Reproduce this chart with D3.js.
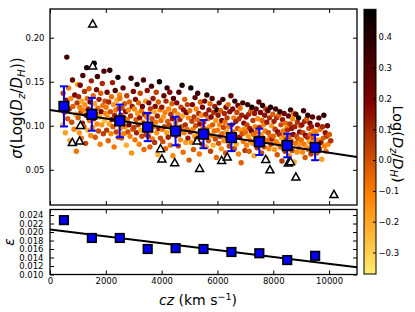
<!DOCTYPE html>
<html>
<head>
<meta charset="utf-8">
<script src="https://cdn.jsdelivr.net/npm/d3@7"></script>
<style>
body { margin: 0; background: #fff; }
text { font-family: "DejaVu Sans", sans-serif; }
</style>
</head>
<body>
<div id="chart"></div>
<script>
// binned means, cz in km/s
var czBins = [500, 1500, 2500, 3500, 4500, 5500, 6500, 7500, 8500, 9500];
var sigmaMeans = [0.122, 0.113, 0.1055, 0.0985, 0.094, 0.0905, 0.0865, 0.0818, 0.0775, 0.0753];
var epsilon = [0.0228, 0.0186, 0.0186, 0.0160, 0.0162, 0.0160, 0.0153, 0.0150, 0.0134, 0.0144];

// open triangles [cz, sigma]
var outliers = [[1530, 0.2156], [1530, 0.168], [800, 0.081], [1060, 0.0826], [1090, 0.1003],
    [3960, 0.0739], [4010, 0.0622], [4470, 0.058], [5270, 0.0826], [5360, 0.0515],
    [6150, 0.0606], [6350, 0.0644], [7730, 0.0617], [7880, 0.050], [8540, 0.0576],
    [8620, 0.0590], [8810, 0.0417], [10175, 0.0219]];

var fitTop = [[0, 0.1178], [11000, 0.0644]];
var fitBottom = [[0, 0.0206], [11000, 0.0117]];

var xTicks = [0, 2000, 4000, 6000, 8000, 10000];
var sigmaTicks = [0.05, 0.10, 0.15, 0.20];
var epsTicks = [0.010, 0.012, 0.014, 0.016, 0.018, 0.020, 0.022, 0.024];
var cbarTicks = [-0.3, -0.2, -0.1, 0.0, 0.1, 0.2, 0.3, 0.4];

// individual galaxies [cz, sigma, log(Dz/DH)]
var galaxies = [
 [410,0.124,-0.11],[455,0.101,-0.26],[470,0.137,0.04],[515,0.115,-0.07],[548,0.092,-0.18],[575,0.129,0.15],[602,0.178,0.36],[633,0.108,-0.02],[668,0.143,-0.09],[690,0.119,0.09],[712,0.083,-0.21],[745,0.131,-0.14],[779,0.104,0.01],[806,0.152,0.27],[823,0.122,-0.04],[861,0.096,-0.12],[887,0.135,0.19],[915,0.113,-0.23],[944,0.071,-0.08],[972,0.126,0.06],[990,0.147,-0.16],
 [1008,0.109,-0.03],[1027,0.133,0.11],[1049,0.092,-0.17],[1066,0.121,-0.10],[1083,0.146,0.22],[1102,0.115,0.02],[1119,0.086,-0.06],[1138,0.128,-0.20],[1161,0.103,0.14],[1176,0.157,0.31],[1195,0.118,-0.12],[1214,0.099,-0.01],[1236,0.139,0.07],[1252,0.124,-0.15],[1275,0.080,0.03],[1296,0.112,0.18],[1313,0.166,0.40],[1331,0.131,-0.07],[1354,0.095,-0.23],[1372,0.119,0.09],[1398,0.142,-0.02],[1417,0.106,-0.09],[1439,0.127,0.25],[1458,0.089,-0.14],[1481,0.151,0.12],
 [1503,0.117,0.05],[1522,0.098,-0.11],[1547,0.134,-0.05],[1565,0.108,0.16],[1584,0.171,0.43],[1602,0.125,-0.18],[1621,0.087,-0.02],[1643,0.113,0.08],[1667,0.141,0.20],[1684,0.102,-0.13],[1699,0.156,0.34],[1718,0.120,-0.07],[1736,0.094,0.02],[1757,0.130,0.13],[1779,0.110,-0.21],[1798,0.079,-0.10],[1815,0.137,-0.03],[1833,0.116,0.21],[1856,0.101,-0.16],[1874,0.148,0.09],[1893,0.123,-0.08],[1912,0.091,0.04],[1934,0.162,0.29],[1952,0.106,-0.25],[1971,0.128,0.01],[1994,0.114,-0.12],
 [2011,0.121,-0.09],[2029,0.095,0.06],[2046,0.138,0.24],[2068,0.110,-0.15],[2087,0.083,-0.04],[2105,0.127,0.10],[2123,0.102,-0.19],[2141,0.163,0.38],[2162,0.116,0.00],[2184,0.091,-0.12],[2203,0.133,-0.06],[2219,0.107,0.17],[2238,0.149,0.12],[2257,0.099,-0.02],[2275,0.124,-0.17],[2296,0.076,-0.09],[2314,0.112,0.08],[2337,0.140,0.31],[2355,0.118,-0.10],[2372,0.093,0.03],[2394,0.129,-0.22],[2411,0.104,0.14],[2433,0.155,0.45],[2452,0.087,-0.07],[2470,0.120,0.05],[2491,0.135,-0.13],
 [2506,0.131,-0.08],[2522,0.097,-0.15],[2541,0.112,0.12],[2563,0.086,-0.05],[2580,0.120,0.02],[2597,0.104,-0.19],[2618,0.143,0.28],[2639,0.091,-0.11],[2657,0.109,0.09],[2676,0.125,-0.02],[2694,0.099,-0.12],[2713,0.116,0.17],[2735,0.078,-0.22],[2752,0.134,0.05],[2770,0.107,-0.07],[2791,0.093,0.01],[2809,0.118,-0.13],[2830,0.101,0.21],[2848,0.127,-0.04],[2866,0.088,-0.10],[2887,0.111,0.06],[2905,0.154,0.35],[2924,0.069,-0.16],[2946,0.122,0.13],[2965,0.096,-0.03],[2987,0.139,0.19],
 [3007,0.098,0.04],[3024,0.119,-0.13],[3045,0.084,-0.07],[3063,0.130,0.19],[3082,0.107,-0.02],[3101,0.092,0.11],[3119,0.147,0.41],[3140,0.114,-0.17],[3158,0.101,0.07],[3177,0.126,-0.05],[3196,0.079,-0.11],[3214,0.109,0.15],[3233,0.137,0.03],[3254,0.095,-0.20],[3272,0.117,-0.08],[3290,0.088,0.02],[3311,0.122,0.24],[3330,0.104,-0.14],[3349,0.152,0.30],[3367,0.073,-0.06],[3385,0.113,0.10],[3406,0.097,-0.01],[3424,0.128,-0.16],[3443,0.090,0.06],[3462,0.110,-0.10],[3484,0.140,0.16],
 [3503,0.113,-0.06],[3521,0.088,0.09],[3542,0.126,0.22],[3560,0.101,-0.14],[3579,0.076,-0.03],[3598,0.119,0.05],[3617,0.094,-0.18],[3636,0.145,0.33],[3655,0.108,0.00],[3673,0.085,-0.10],[3692,0.131,0.13],[3711,0.099,-0.06],[3730,0.116,-0.21],[3749,0.081,0.07],[3768,0.122,0.18],[3787,0.104,-0.09],[3806,0.138,0.04],[3825,0.092,-0.15],[3844,0.111,0.11],[3863,0.067,-0.24],[3882,0.127,-0.04],[3901,0.097,0.15],[3920,0.150,0.46],[3939,0.118,-0.12],[3958,0.086,0.02],[3977,0.106,-0.07],
 [4006,0.121,0.14],[4025,0.096,-0.08],[4044,0.082,0.01],[4063,0.110,-0.16],[4082,0.134,0.26],[4101,0.099,0.05],[4120,0.115,-0.11],[4139,0.074,-0.05],[4158,0.128,0.09],[4177,0.092,-0.19],[4196,0.143,0.37],[4215,0.105,-0.02],[4234,0.087,0.12],[4253,0.119,-0.13],[4272,0.101,0.03],[4291,0.138,0.18],[4310,0.078,-0.09],[4329,0.113,0.07],[4348,0.094,-0.22],[4367,0.125,-0.04],[4386,0.108,0.16],[4405,0.066,-0.13],[4424,0.131,0.31],[4443,0.090,0.00],[4462,0.117,-0.07],[4485,0.097,0.10],
 [4504,0.103,-0.12],[4523,0.089,0.06],[4542,0.126,0.20],[4561,0.097,-0.05],[4580,0.113,-0.17],[4599,0.077,0.02],[4618,0.138,0.29],[4637,0.094,-0.09],[4656,0.107,0.11],[4675,0.084,-0.14],[4694,0.121,0.03],[4713,0.099,-0.01],[4732,0.146,0.42],[4751,0.111,-0.20],[4770,0.070,-0.07],[4789,0.118,0.15],[4808,0.092,-0.10],[4827,0.130,-0.03],[4846,0.101,0.08],[4865,0.081,-0.18],[4884,0.115,0.24],[4903,0.096,-0.06],[4922,0.124,0.05],[4941,0.086,0.13],[4960,0.109,-0.12],[4983,0.061,-0.02],
 [5008,0.117,-0.07],[5027,0.093,0.10],[5046,0.143,0.47],[5065,0.081,-0.15],[5084,0.105,0.04],[5103,0.124,0.19],[5122,0.096,-0.11],[5141,0.073,-0.03],[5160,0.110,0.07],[5179,0.088,-0.20],[5198,0.132,0.27],[5217,0.100,0.00],[5236,0.119,-0.12],[5255,0.085,0.12],[5274,0.107,-0.06],[5293,0.137,0.35],[5312,0.091,-0.16],[5331,0.114,0.09],[5350,0.068,-0.09],[5369,0.102,0.16],[5388,0.127,-0.02],[5407,0.094,0.03],[5426,0.112,-0.14],[5445,0.079,0.05],[5464,0.121,0.21],[5487,0.098,-0.08],
 [5506,0.104,0.02],[5525,0.087,-0.13],[5544,0.128,0.23],[5563,0.096,-0.04],[5582,0.113,0.11],[5601,0.076,-0.19],[5620,0.135,0.39],[5639,0.092,0.06],[5658,0.108,-0.08],[5677,0.083,-0.01],[5696,0.118,0.15],[5715,0.099,-0.14],[5734,0.125,-0.05],[5753,0.071,0.04],[5772,0.110,0.18],[5791,0.089,-0.11],[5810,0.131,0.29],[5829,0.101,-0.02],[5848,0.078,-0.23],[5867,0.115,0.08],[5886,0.094,-0.07],[5905,0.122,0.13],[5924,0.085,0.01],[5943,0.106,-0.16],[5962,0.064,-0.06],[5985,0.118,0.43],
 [6004,0.095,-0.09],[6023,0.112,0.14],[6042,0.080,0.00],[6061,0.126,0.31],[6080,0.101,-0.12],[6099,0.088,0.07],[6118,0.117,-0.03],[6137,0.074,-0.17],[6156,0.106,0.19],[6175,0.091,-0.06],[6194,0.130,0.36],[6213,0.098,0.03],[6232,0.083,-0.14],[6251,0.114,0.10],[6270,0.104,-0.08],[6289,0.069,-0.02],[6308,0.121,0.22],[6327,0.093,-0.19],[6346,0.109,0.05],[6365,0.086,0.12],[6384,0.124,-0.06],[6403,0.099,-0.11],[6422,0.077,0.04],[6441,0.116,0.17],[6460,0.090,-0.04],[6483,0.134,0.26],
 [6508,0.101,0.08],[6527,0.084,-0.15],[6546,0.119,0.20],[6565,0.093,-0.05],[6584,0.109,-0.10],[6603,0.074,0.01],[6622,0.128,0.40],[6641,0.089,-0.08],[6660,0.105,0.13],[6679,0.079,-0.21],[6698,0.115,0.03],[6717,0.097,-0.01],[6736,0.123,0.25],[6755,0.068,-0.12],[6774,0.108,0.06],[6793,0.087,0.15],[6812,0.120,-0.07],[6831,0.095,-0.16],[6850,0.058,-0.04],[6869,0.112,0.11],[6888,0.091,0.00],[6907,0.126,0.33],[6926,0.082,-0.10],[6945,0.103,0.18],[6964,0.096,-0.13],[6987,0.072,0.05],
 [7006,0.092,-0.06],[7025,0.110,0.16],[7044,0.078,-0.12],[7063,0.101,0.02],[7082,0.124,0.37],[7101,0.088,-0.18],[7120,0.113,0.09],[7139,0.071,-0.03],[7158,0.097,0.12],[7177,0.083,-0.09],[7196,0.117,-0.01],[7215,0.094,0.21],[7234,0.121,0.44],[7253,0.080,-0.15],[7272,0.106,0.05],[7291,0.090,-0.07],[7310,0.066,-0.20],[7329,0.114,0.14],[7348,0.099,-0.11],[7367,0.085,0.03],[7386,0.119,0.24],[7405,0.093,-0.05],[7424,0.075,0.08],[7443,0.108,-0.14],[7462,0.087,0.00],[7485,0.127,0.29],
 [7504,0.098,0.10],[7523,0.081,-0.08],[7542,0.115,0.19],[7561,0.090,-0.16],[7580,0.069,0.02],[7599,0.106,-0.04],[7618,0.123,0.38],[7637,0.086,0.07],[7656,0.101,-0.12],[7675,0.076,-0.02],[7694,0.112,0.16],[7713,0.094,-0.10],[7732,0.119,0.05],[7751,0.063,-0.23],[7770,0.104,0.13],[7789,0.083,-0.06],[7808,0.117,0.28],[7827,0.092,0.01],[7846,0.074,-0.13],[7865,0.109,0.09],[7884,0.088,-0.08],[7903,0.121,0.42],[7922,0.079,0.04],[7941,0.100,-0.17],[7960,0.085,0.11],[7983,0.113,-0.03],
 [8008,0.088,-0.05],[8027,0.105,0.12],[8046,0.073,-0.17],[8065,0.096,0.04],[8084,0.119,0.32],[8103,0.082,-0.10],[8122,0.109,0.08],[8141,0.067,-0.01],[8160,0.093,0.17],[8179,0.079,-0.14],[8198,0.112,-0.04],[8217,0.090,0.10],[8236,0.116,0.41],[8255,0.076,-0.07],[8274,0.101,0.02],[8293,0.086,-0.20],[8312,0.060,0.06],[8331,0.107,0.15],[8350,0.094,-0.09],[8369,0.081,0.00],[8388,0.114,0.23],[8407,0.089,-0.12],[8426,0.071,0.07],[8445,0.103,-0.06],[8464,0.084,0.13],[8487,0.098,-0.15],
 [8506,0.095,0.09],[8525,0.078,-0.11],[8544,0.111,0.25],[8563,0.087,-0.03],[8582,0.066,-0.16],[8601,0.102,0.06],[8620,0.118,0.39],[8639,0.083,-0.07],[8658,0.097,0.14],[8677,0.072,0.01],[8696,0.108,-0.12],[8715,0.090,0.18],[8734,0.114,-0.05],[8753,0.059,-0.21],[8772,0.099,0.11],[8791,0.080,-0.08],[8810,0.113,0.30],[8829,0.088,0.03],[8848,0.070,-0.14],[8867,0.104,0.07],[8886,0.085,-0.02],[8905,0.109,0.46],[8924,0.075,-0.09],[8943,0.093,0.16],[8962,0.081,-0.17],[8985,0.100,0.00],
 [9008,0.084,-0.07],[9027,0.101,0.15],[9046,0.070,-0.13],[9065,0.092,0.03],[9084,0.117,0.34],[9103,0.079,-0.09],[9122,0.105,0.10],[9141,0.064,-0.02],[9160,0.089,0.19],[9179,0.076,-0.16],[9198,0.108,-0.04],[9217,0.087,0.08],[9236,0.112,0.40],[9255,0.073,-0.10],[9274,0.097,0.01],[9293,0.082,-0.19],[9312,0.103,0.22],[9331,0.090,-0.06],[9350,0.068,0.05],[9369,0.099,0.13],[9388,0.080,-0.12],[9407,0.110,0.27],[9426,0.086,-0.01],[9460,0.094,-0.14],
 [9506,0.078,0.06],[9531,0.093,-0.10],[9556,0.069,-0.04],[9582,0.101,0.20],[9608,0.084,-0.15],[9633,0.109,0.31],[9659,0.074,0.02],[9684,0.096,-0.07],[9710,0.081,0.12],[9736,0.062,-0.18],[9761,0.099,0.09],[9787,0.086,-0.03],[9812,0.112,0.37],[9838,0.077,-0.11],[9863,0.092,0.15],[9889,0.071,-0.06],[9914,0.088,0.04],[9940,0.100,0.24],[9965,0.079,-0.13],[10010,0.090,-0.02],[10060,0.083,0.08]
];

var width = 415, height = 312;
var left = 50, right = 357;
var topY0 = 9, topY1 = 205, botY0 = 209.5, botY1 = 274.5;
var cbX = 364, cbW = 12, cbY0 = 9.3, cbY1 = 274;

var svg = d3.select("#chart").append("svg")
    .attr("width", width)
    .attr("height", height);

svg.append("rect").attr("width", width).attr("height", height).style("fill", "#fff");

var x = d3.scaleLinear().domain([0, 11000]).range([left, right]);
var ySig = d3.scaleLinear().domain([0.01, 0.2326]).range([topY1, topY0]);
var yEps = d3.scaleLinear().domain([0.010, 0.0253]).range([botY1, botY0]);
var cDomain = [-0.37, 0.49];
var yCb = d3.scaleLinear().domain(cDomain).range([cbY1, cbY0]);

// afmhot, reversed, upper part cut off
function heat(v) {
    var t = 0.715 * (cDomain[1] - v) / (cDomain[1] - cDomain[0]);
    var cl = function(a) { return Math.round(255 * Math.max(0, Math.min(1, a))); };
    return "rgb(" + cl(2 * t) + "," + cl(2 * t - 0.5) + "," + cl(2 * t - 1) + ")";
}

svg.append("clipPath").attr("id", "clipTop")
    .append("rect").attr("x", left).attr("y", topY0).attr("width", right - left).attr("height", topY1 - topY0);
svg.append("clipPath").attr("id", "clipBot")
    .append("rect").attr("x", left).attr("y", botY0).attr("width", right - left).attr("height", botY1 - botY0);

// ---- top panel
var gTop = svg.append("g").attr("clip-path", "url(#clipTop)");

gTop.selectAll("circle.dot")
    .data(galaxies)
    .enter()
    .append("circle")
    .attr("class", "dot")
    .attr("cx", function(d) { return x(d[0]); })
    .attr("cy", function(d) { return ySig(d[1]); })
    .attr("r", 2.7)
    .style("fill", function(d) { return heat(d[2]); });

var line = d3.line()
    .x(function(d) { return x(d[0]); });

gTop.append("path")
    .datum(fitTop)
    .attr("d", line.y(function(d) { return ySig(d[1]); }))
    .style("fill", "none")
    .style("stroke", "#000")
    .style("stroke-width", 2);

gTop.selectAll("path.tri")
    .data(outliers)
    .enter()
    .append("path")
    .attr("class", "tri")
    .attr("d", "M0,-4.2L4,3L-4,3Z")
    .attr("transform", function(d) { return "translate(" + x(d[0]) + "," + ySig(d[1]) + ")"; })
    .style("fill", "#fff")
    .style("stroke", "#000")
    .style("stroke-width", 1.5);

var bins = czBins.map(function(c, i) { return { cz: c, s: sigmaMeans[i], e: epsilon[i] }; });

var eb = gTop.selectAll("g.eb").data(bins).enter().append("g").attr("class", "eb");
eb.append("line")
    .attr("x1", function(d) { return x(d.cz); })
    .attr("x2", function(d) { return x(d.cz); })
    .attr("y1", function(d) { return ySig(d.s - d.e); })
    .attr("y2", function(d) { return ySig(d.s + d.e); });
eb.append("line")
    .attr("x1", function(d) { return x(d.cz) - 4; })
    .attr("x2", function(d) { return x(d.cz) + 4; })
    .attr("y1", function(d) { return ySig(d.s - d.e); })
    .attr("y2", function(d) { return ySig(d.s - d.e); });
eb.append("line")
    .attr("x1", function(d) { return x(d.cz) - 4; })
    .attr("x2", function(d) { return x(d.cz) + 4; })
    .attr("y1", function(d) { return ySig(d.s + d.e); })
    .attr("y2", function(d) { return ySig(d.s + d.e); });
eb.selectAll("line").style("stroke", "#0000ff").style("stroke-width", 2);

gTop.selectAll("rect.sq")
    .data(bins)
    .enter()
    .append("rect")
    .attr("class", "sq")
    .attr("x", function(d) { return x(d.cz) - 4.8; })
    .attr("y", function(d) { return ySig(d.s) - 4.8; })
    .attr("width", 9.6)
    .attr("height", 9.6)
    .style("fill", "#0000ff")
    .style("stroke", "#000")
    .style("stroke-width", 1.6);

// ---- bottom panel
var gBot = svg.append("g").attr("clip-path", "url(#clipBot)");

gBot.append("path")
    .datum(fitBottom)
    .attr("d", d3.line().x(function(d) { return x(d[0]); }).y(function(d) { return yEps(d[1]); }))
    .style("fill", "none")
    .style("stroke", "#000")
    .style("stroke-width", 2);

gBot.selectAll("rect.sq")
    .data(bins)
    .enter()
    .append("rect")
    .attr("class", "sq")
    .attr("x", function(d) { return x(d.cz) - 4.3; })
    .attr("y", function(d) { return yEps(d.e) - 4.3; })
    .attr("width", 8.6)
    .attr("height", 8.6)
    .style("fill", "#0000ff")
    .style("stroke", "#000")
    .style("stroke-width", 1.6);

// ---- axes
function styleAxis(g) {
    g.select(".domain").remove();
    g.selectAll(".tick line").style("stroke", "#000").style("stroke-width", 1);
    g.selectAll(".tick text").style("font-family", "'DejaVu Sans', sans-serif").style("font-size", "8.5px").style("fill", "#000");
}

svg.append("g").attr("transform", "translate(" + left + ",0)")
    .call(d3.axisLeft(ySig).tickValues(sigmaTicks).tickSize(-4).tickPadding(5.5).tickFormat(d3.format(".2f")))
    .call(styleAxis);
svg.append("g").attr("transform", "translate(" + right + ",0)")
    .call(d3.axisRight(ySig).tickValues(sigmaTicks).tickSize(-4).tickFormat(""))
    .call(styleAxis);
svg.append("g").attr("transform", "translate(0," + topY1 + ")")
    .call(d3.axisBottom(x).tickValues(xTicks).tickSize(-4).tickFormat(""))
    .call(styleAxis);
svg.append("g").attr("transform", "translate(0," + topY0 + ")")
    .call(d3.axisTop(x).tickValues(xTicks).tickSize(-4).tickFormat(""))
    .call(styleAxis);

svg.append("g").attr("transform", "translate(" + left + ",0)")
    .call(d3.axisLeft(yEps).tickValues(epsTicks).tickSize(-4).tickPadding(6.5).tickFormat(d3.format(".3f")))
    .call(styleAxis);
svg.append("g").attr("transform", "translate(" + right + ",0)")
    .call(d3.axisRight(yEps).tickValues(epsTicks).tickSize(-4).tickFormat(""))
    .call(styleAxis);
svg.append("g").attr("transform", "translate(0," + botY1 + ")")
    .call(d3.axisBottom(x).tickValues(xTicks).tickSize(-4).tickPadding(3.5).tickFormat(d3.format("d")))
    .call(styleAxis);
svg.append("g").attr("transform", "translate(0," + botY0 + ")")
    .call(d3.axisTop(x).tickValues(xTicks).tickSize(-4).tickFormat(""))
    .call(styleAxis);

// frames
[[topY0, topY1], [botY0, botY1]].forEach(function(p) {
    svg.append("rect")
        .attr("x", left).attr("y", p[0])
        .attr("width", right - left).attr("height", p[1] - p[0])
        .style("fill", "none").style("stroke", "#000").style("stroke-width", 1.3);
});

// ---- colorbar
var grad = svg.append("defs").append("linearGradient")
    .attr("id", "cbGrad").attr("x1", 0).attr("y1", 1).attr("x2", 0).attr("y2", 0);
d3.range(0, 1.0001, 0.05).forEach(function(f) {
    var v = cDomain[0] + f * (cDomain[1] - cDomain[0]);
    grad.append("stop").attr("offset", f).attr("stop-color", heat(v));
});
svg.append("rect")
    .attr("x", cbX).attr("y", cbY0).attr("width", cbW).attr("height", cbY1 - cbY0)
    .style("fill", "url(#cbGrad)").style("stroke", "#000").style("stroke-width", 1);

svg.append("g").attr("transform", "translate(" + (cbX + cbW) + ",0)")
    .call(d3.axisRight(yCb).tickValues(cbarTicks).tickSize(-3).tickPadding(2.5).tickFormat(d3.format(".1f")))
    .call(styleAxis);

// ---- labels
function mathLabel(t, parts) {
    parts.forEach(function(p) {
        var s = t.append("tspan").text(p[0]);
        if (p[1]) s.style("font-style", "italic");
        if (p[2]) s.attr("dy", p[2]);
        if (p[3]) s.style("font-size", p[3]);
    });
}

var ylab = svg.append("text")
    .attr("transform", "translate(22,108) rotate(-90)")
    .attr("text-anchor", "middle")
    .style("font-size", "15px");
mathLabel(ylab, [["σ", true], ["(Log("], ["D", true], ["z", true, 3, "10.5px"], ["/", false, -3], ["D", true],
    ["H", true, 3, "10.5px"], ["))", false, -3]]);

svg.append("text")
    .attr("transform", "translate(14,242) rotate(-90)")
    .attr("text-anchor", "middle")
    .style("font-size", "14px")
    .style("font-style", "italic")
    .text("ε");

var xlab = svg.append("text")
    .attr("x", 198).attr("y", 305)
    .attr("text-anchor", "middle")
    .style("font-size", "14px");
mathLabel(xlab, [["cz", true], [" (km s"], ["−1", false, -5, "9.5px"], [")", false, 5]]);

var clab = svg.append("text")
    .attr("transform", "translate(393,144) rotate(90)")
    .attr("text-anchor", "middle")
    .style("font-size", "14.5px");
mathLabel(clab, [["Log("], ["D", true], ["z", true, 3, "10px"], ["/", false, -3], ["D", true],
    ["H", true, 3, "10px"], [")", false, -3]]);
</script>
</body>
</html>
